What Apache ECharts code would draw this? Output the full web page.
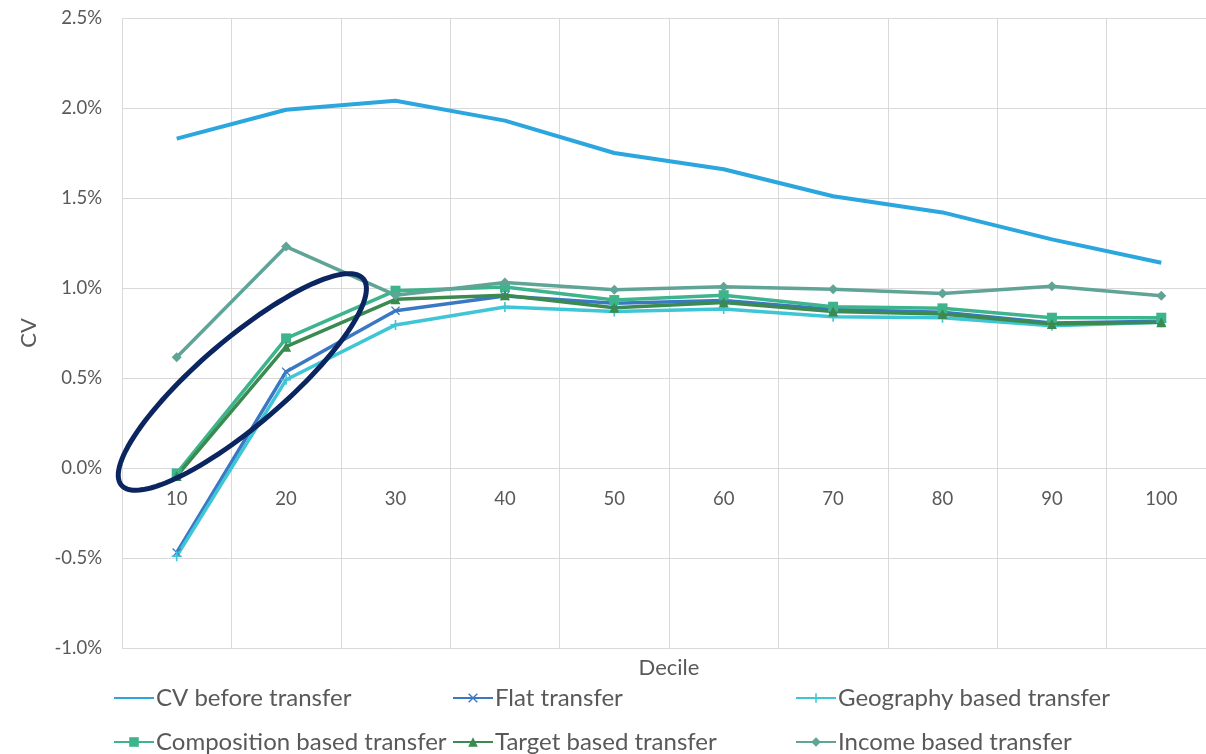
<!DOCTYPE html>
<html>
<head>
<meta charset="utf-8">
<script src="https://cdn.jsdelivr.net/npm/echarts@6/dist/echarts.min.js"></script>
<style>
html,body{margin:0;padding:0;background:#fff;}
#chart{width:1206px;height:754px;}
</style>
</head>
<body>
<div id="chart"></div>
<script>
var categories = ['10','20','30','40','50','60','70','80','90','100'];
var cvBefore    = [1.83, 1.99, 2.04, 1.93, 1.75, 1.66, 1.51, 1.42, 1.27, 1.14];
var flat        = [-0.47, 0.535, 0.874, 0.955, 0.915, 0.93, 0.88, 0.865, 0.805, 0.815];
var geography   = [-0.49, 0.49, 0.795, 0.895, 0.87, 0.883, 0.84, 0.835, 0.79, 0.81];
var composition = [-0.03, 0.72, 0.985, 1.005, 0.933, 0.96, 0.896, 0.887, 0.835, 0.835];
var target      = [-0.045, 0.674, 0.937, 0.96, 0.89, 0.92, 0.87, 0.855, 0.80, 0.81];
var income      = [0.615, 1.23, 0.96, 1.03, 0.99, 1.007, 0.993, 0.97, 1.01, 0.957];
var yTicks = { min: -1.0, max: 2.5, step: 0.5 };

var FONT = 'Lato';
var TXT = '#595959';
var GRID = '#d9d9d9';

var symX = 'path://M0,1L1,0L5,4L9,0L10,1L6,5L10,9L9,10L5,6L1,10L0,9L4,5Z';
var symPlus = 'path://M4.2,0H5.8V4.2H10V5.8H5.8V10H4.2V5.8H0V4.2H4.2Z';

function mk(name, data, color, symbol, size, width){
  return {
    name: name, type: 'line', data: data,
    symbol: symbol || 'none', symbolSize: size || 8,
    showSymbol: !!symbol,
    lineStyle: { color: color, width: width || 3.5 },
    itemStyle: { color: color },
    emphasis: { disabled: true },
    animation: false
  };
}

var series = [
  mk('CV before transfer', cvBefore, '#2ba6de', null, 0, 4),
  mk('Flat transfer', flat, '#3a78c4', symX, 9),
  mk('Geography based transfer', geography, '#3ec6d6', symPlus, 10),
  mk('Composition based transfer', composition, '#3db48c', 'rect', 10),
  mk('Target based transfer', target, '#3b8a4f', 'triangle', 10),
  mk('Income based transfer', income, '#5fa497', 'diamond', 10)
];

function legend(left, top, item){
  return {
    orient: 'horizontal', left: left, top: top,
    itemWidth: 40, itemHeight: 12, itemGap: 0, padding: 0,
    textStyle: { fontFamily: FONT, fontSize: 24, color: TXT, padding: [0,0,0,-3] },
    data: [item], selectedMode: false
  };
}

var chart = echarts.init(document.getElementById('chart'), null, { renderer: 'canvas' });
chart.setOption({
  backgroundColor: '#fff',
  animation: false,
  grid: { left: 122, right: -10, top: 18, bottom: 106, containLabel: false, outerBoundsMode: 'none' },
  legend: [
    legend(113, 686, { name: 'CV before transfer', itemStyle: { opacity: 0 } }),
    legend(113, 730, 'Composition based transfer'),
    legend(452, 686, 'Flat transfer'),
    legend(452, 730, 'Target based transfer'),
    legend(795, 686, 'Geography based transfer'),
    legend(795, 730, 'Income based transfer')
  ],
  xAxis: {
    type: 'category', data: categories, boundaryGap: true,
    offset: -180,
    name: 'Decile', nameLocation: 'middle', nameGap: 189,
    nameTextStyle: { fontFamily: FONT, fontSize: 22, color: TXT },
    axisLine: { onZero: false, lineStyle: { color: GRID, width: 1 } },
    axisTick: { show: false },
    axisLabel: { fontFamily: FONT, fontSize: 18.5, color: TXT, margin: 22, interval: 0 },
    splitLine: { show: true, interval: 0, lineStyle: { color: GRID, width: 1 } }
  },
  yAxis: {
    type: 'value', min: yTicks.min, max: yTicks.max, interval: yTicks.step,
    name: 'CV', nameLocation: 'middle', nameGap: 82, nameRotate: 90,
    nameTextStyle: { fontFamily: FONT, fontSize: 22, color: TXT },
    axisLine: { show: false }, axisTick: { show: false },
    axisLabel: { fontFamily: FONT, fontSize: 18.5, color: TXT, margin: 20,
      formatter: function(v){ return v.toFixed(1) + '%'; } },
    splitLine: { show: true, lineStyle: { color: GRID, width: 1 } }
  },
  series: series
});

// Hand-drawn annotation ellipse, anchored to data space
(function(){
  var p0 = chart.convertToPixel({ xAxisIndex: 0, yAxisIndex: 0 }, ['10', 0.478]);
  var p1 = chart.convertToPixel({ xAxisIndex: 0, yAxisIndex: 0 }, ['20', 0.478]);
  var cx = p0[0] + 0.6 * (p1[0] - p0[0]);
  var cy = p0[1];
  var a = 159, b = 43, ang = 40.5 * Math.PI / 180;
  var pts = [];
  for (var i = 0; i < 120; i++) {
    var t = i / 120 * Math.PI * 2;
    var ex = a * Math.cos(t), ey = b * Math.sin(t);
    pts.push([cx + ex * Math.cos(ang) - ey * Math.sin(ang), cy - ex * Math.sin(ang) - ey * Math.cos(ang)]);
  }
  chart.setOption({
    graphic: [{
      type: 'polygon', shape: { points: pts }, silent: true, z: 100,
      style: { fill: 'none', stroke: '#0b2560', lineWidth: 5 }
    }]
  });
})();
</script>
</body>
</html>
